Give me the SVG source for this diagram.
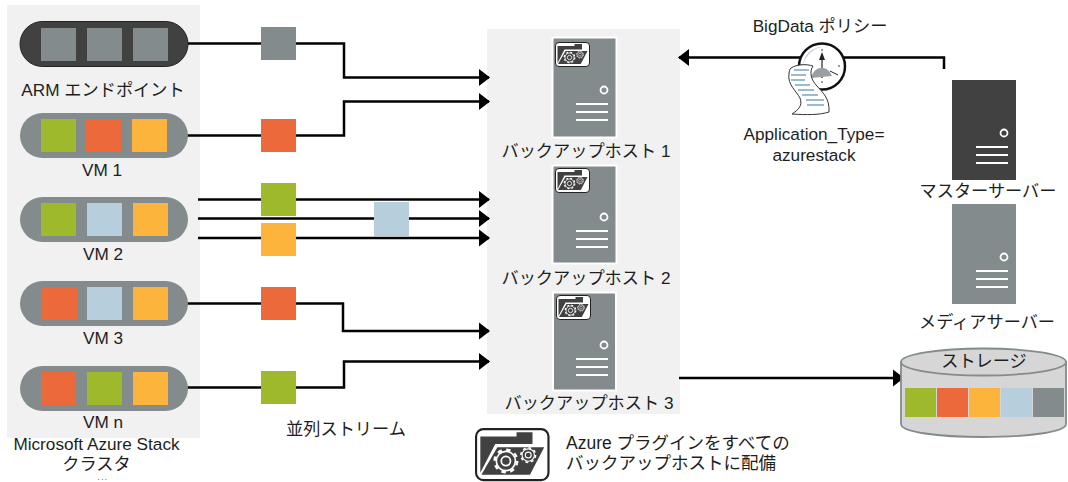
<svg xmlns="http://www.w3.org/2000/svg" xmlns:xlink="http://www.w3.org/1999/xlink" width="1068" height="482" viewBox="0 0 1068 482">
<style>
text{font-family:"Liberation Sans","Noto Sans CJK JP",sans-serif;font-size:17.200px;fill:#1e1e1e;text-anchor:middle}
.l{text-anchor:start;font-size:17.500px}
.dots{font-family:"Liberation Sans",sans-serif;font-size:8px;letter-spacing:1.500px}
.c{fill:none;stroke:#000;stroke-width:2.500}
.panel{fill:#f1f1f1}
.g{fill:#848b8d}.r{fill:#ec693c}.y{fill:#fdb43c}.b{fill:#b7cfdd}.v{fill:#9fb92d}.d{fill:#414141}
.pill{fill:#848b8d}
</style>
<defs>
<marker id="a" markerUnits="userSpaceOnUse" markerWidth="12" markerHeight="18" refX="10" refY="9" orient="auto"><path d="M0 .5L11 9L0 17.500Z" fill="#000"/></marker>
<g id="gear"><circle r="2.400" fill="none" stroke="#fff" stroke-width=".9"/><circle r="5" fill="none" stroke="#fff" stroke-width=".9"/><circle r="5.900" fill="none" stroke="#fff" stroke-width="1.300" stroke-dasharray="2.300 2.330"/></g>
<g id="folder">
<rect x="0.500" y="0.500" width="34" height="24" rx="3.500" fill="#fff" stroke="#222" stroke-width="1"/>
<path d="M2.500 21V4H19.500V2H27V7.500H9.500L2.500 21Z" fill="#414141"/>
<path d="M10.500 9H32.500L25.800 22H3Z" fill="#414141"/>
<use xlink:href="#gear" transform="translate(14.500,15.500) scale(.9)"/>
<use xlink:href="#gear" transform="translate(25,12.700) scale(.58)"/>
</g>
<g id="srv"><circle cx="52" cy="53" r="3.500" fill="none" stroke="#fff" stroke-width="1.800"/><path d="M24 67H56M24 75H56M24 83H56" stroke="#fff" stroke-width="1.800"/></g>
</defs>
<rect id="cluster-panel" class="panel" x="7" y="5" width="193" height="433"/>
<rect id="host-panel" class="panel" x="487" y="29" width="193" height="385"/>
<g id="connectors">
<path class="c" d="M188 43.500H344V77.500H489" marker-end="url(#a)"/>
<path class="c" d="M187 135.500H344V101.500H489" marker-end="url(#a)"/>
<path class="c" d="M198 199.500H489" marker-end="url(#a)"/>
<path class="c" d="M198 218.500H489" marker-end="url(#a)"/>
<path class="c" d="M198 238H489" marker-end="url(#a)"/>
<path class="c" d="M187 303.500H343V331H489" marker-end="url(#a)"/>
<path class="c" d="M187 387.500H344V361.500H489" marker-end="url(#a)"/>
<path class="c" d="M944 69V57.500H679" marker-end="url(#a)"/>
<path class="c" d="M679 378H903" marker-end="url(#a)"/>
</g>
<g id="arm-endpoint"><rect x="20" y="21.500" width="168" height="45" rx="22.500" class="d" stroke="#222"/><rect class="g" x="41" y="28" width="35" height="33"/><rect class="g" x="87" y="28" width="35" height="33"/><rect class="g" x="133" y="28" width="35" height="33"/><text x="103" y="96">ARM エンドポイント</text></g>
<g id="vm1"><rect x="20" y="113" width="168" height="45" rx="22.500" class="pill"/><rect class="v" x="41" y="119" width="35" height="33"/><rect class="r" x="86" y="119" width="35" height="33"/><rect class="y" x="132" y="119" width="35" height="33"/><text x="102" y="176">VM 1</text></g>
<g id="vm2"><rect x="20" y="197" width="168" height="45" rx="22.500" class="pill"/><rect class="v" x="41" y="203" width="35" height="33"/><rect class="b" x="87" y="203" width="35" height="33"/><rect class="y" x="133" y="203" width="35" height="33"/><text x="103" y="260">VM 2</text></g>
<g id="vm3"><rect x="20" y="281" width="168" height="45" rx="22.500" class="pill"/><rect class="r" x="42" y="287" width="35" height="33"/><rect class="b" x="87" y="287" width="35" height="33"/><rect class="y" x="133" y="287" width="35" height="33"/><text x="103" y="344">VM 3</text></g>
<g id="vmn"><rect x="20" y="366" width="168" height="45" rx="22.500" class="pill"/><rect class="r" x="41" y="372" width="35" height="33"/><rect class="v" x="87" y="372" width="35" height="33"/><rect class="y" x="133" y="372" width="35" height="33"/><text x="103" y="428">VM n</text></g>
<g id="cluster-label"><text x="96.500" y="450">Microsoft Azure Stack</text><text x="96.500" y="470">クラスタ</text><text class="dots" x="103" y="480">...</text></g>
<g id="streams"><rect class="g" x="261" y="27" width="35" height="33"/><rect class="r" x="261" y="119" width="35" height="33"/><rect class="v" x="261" y="183" width="35" height="33"/><rect class="y" x="261" y="223" width="35" height="33"/><rect class="b" x="374" y="202" width="35" height="34"/><rect class="r" x="261" y="287" width="35" height="33"/><rect class="v" x="261" y="371" width="35" height="33"/><text x="346" y="435">並列ストリーム</text></g>
<g id="host1"><rect x="552.500" y="37.500" width="64" height="100" class="g" stroke="#fff" stroke-width="2"/><use xlink:href="#srv" x="552" y="37"/><use xlink:href="#folder" x="555" y="42"/><text x="586" y="157">バックアップホスト 1</text></g>
<g id="host2"><rect x="552.500" y="165.500" width="64" height="98" class="g" stroke="#fff" stroke-width="2"/><use xlink:href="#srv" x="552" y="164"/><use xlink:href="#folder" x="555" y="168"/><text x="586" y="284">バックアップホスト 2</text></g>
<g id="host3"><rect x="553" y="292.500" width="63" height="98" class="g" stroke="#fff" stroke-width="2"/><use xlink:href="#srv" x="552" y="292"/><use xlink:href="#folder" x="556" y="295"/><text x="589" y="409">バックアップホスト 3</text></g>
<g id="policy"><text x="820" y="32">BigData ポリシー</text>
<circle cx="822" cy="66.500" r="23" fill="#fff" stroke="#111" stroke-width="2.500"/>
<path d="M803 66a19 19 0 0 1 19 -19a24 24 0 0 0 -19 19Z" fill="#c9cfe0"/>
<path d="M822 78V56" stroke="#222" stroke-width="1.200"/><path d="M819 60L822 52L825 60Z" fill="#222"/>
<path d="M811 78a11 13 0 0 1 21 -2Z" fill="#9a9fa3"/><path d="M830 71L838 75" stroke="#222"/>
<circle cx="822" cy="50" r=".8" fill="#222"/><circle cx="839" cy="66" r=".8" fill="#222"/><circle cx="822" cy="82" r=".8" fill="#222"/>
<path d="M791 68C797 64 807 64 813 66C809 72 811 80 817 86C822 92 830 98 829 112C820 115 806 115 792 114C798 110 803 106 800 98C797 92 787 84 789 74C789 71 790 69 791 68Z" fill="#fff" stroke="#333"/>
<path d="M794 70H809M791 75H806M791 80H805M795 85H810M798 90H814M802 95H818M806 100H824M807 105H824" stroke="#7ea6bb" stroke-width="1.500"/>
<text x="814" y="140">Application_Type=</text><text x="814" y="161">azurestack</text></g>
<g id="master"><rect x="952" y="80" width="64" height="100" class="d"/><use xlink:href="#srv" x="952" y="80"/><text x="988" y="197">マスターサーバー</text></g>
<g id="media"><rect x="952" y="204" width="64" height="100" class="g"/><use xlink:href="#srv" x="952" y="204"/><text x="987" y="328">メディアサーバー</text></g>
<g id="storage"><path d="M901 362V424C901 432 938 437 983 437C1028 437 1066 432 1066 424V362Z" fill="#d6d6d6" stroke="#848b8d" stroke-width="1.800"/><ellipse cx="983.500" cy="362" rx="82.500" ry="13.500" fill="#d6d6d6" stroke="#848b8d" stroke-width="1.800"/>
<rect class="v" x="905" y="388" width="31" height="29"/><rect class="r" x="937" y="388" width="31" height="29"/><rect class="y" x="969" y="388" width="31" height="29"/><rect class="b" x="1001" y="388" width="31" height="29"/><rect class="g" x="1033" y="388" width="31" height="29"/><text x="984" y="367">ストレージ</text></g>
<g id="legend"><use xlink:href="#folder" transform="translate(475,428) scale(2.130)"/><text class="l" x="566" y="449">Azure プラグインをすべての</text><text class="l" x="566" y="469">バックアップホストに配備</text></g>
</svg>
